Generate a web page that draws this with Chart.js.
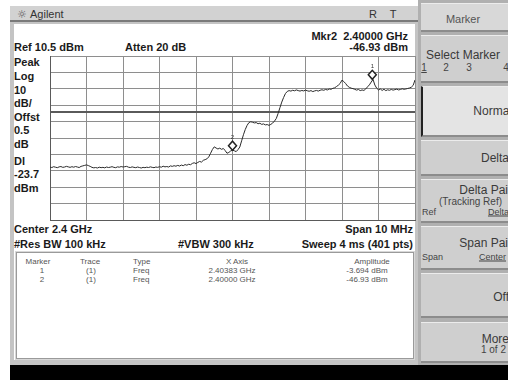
<!DOCTYPE html>
<html>
<head>
<meta charset="utf-8">
<script src="https://cdn.jsdelivr.net/npm/chart.js@4.4.1/dist/chart.umd.min.js"></script>
<style>
  html, body { margin: 0; padding: 0; }
  body { width: 508px; height: 380px; overflow: hidden; position: relative; background: #fff;
         font-family: "Liberation Sans", Arial, sans-serif; color: #222; }
  .box { position: absolute; box-sizing: border-box; }
  .t { position: absolute; white-space: nowrap; line-height: 1; }
  .l { transform: translate(0, -50%); }
  .c { transform: translate(-50%, -50%); }
  .r { transform: translate(-100%, -50%); }
  .b { font-weight: bold; font-size: 11px; color: #1a1a1a; }
  .tb { font-size: 8px; color: #555; }
  .btn { position: absolute; left: 421px; width: 90px; box-sizing: border-box; background: #cfcfcf;
         border-top: 1px solid #ececec; border-bottom: 2px solid #8c8c8c; }
  .k { font-size: 12px; color: #3a3a3a; }
  .ks { font-size: 9px; color: #444; }
  #chart { position: absolute; left: 0; top: 0; z-index: 5; }
</style>
</head>
<body>
<!-- instrument frame -->
<div class="box" style="left:10px;top:6px;width:410px;height:359px;background:#c4c4c4;"></div>
<div class="box" style="left:10px;top:6px;width:408px;height:16px;background:#d2d2d2;border-bottom:2px solid #7a7a7a;"></div>
<div class="box" style="left:14px;top:24px;width:401px;height:336px;background:#fff;"></div>
<div class="box" style="left:16px;top:252px;width:398px;height:107px;border:1px solid #9a9a9a;outline:1px solid #d8d8d8;"></div>
<div class="box" style="left:10px;top:365px;width:498px;height:15px;background:#000;"></div>

<!-- title bar -->
<span class="t l" style="left:17px;top:14px;font-size:11px;color:#555;font-family:'DejaVu Sans';">☼</span>
<span class="t l" style="left:30px;top:14px;font-size:11px;color:#333;">Agilent</span>
<span class="t c" style="left:373px;top:14px;font-size:11px;color:#333;">R</span>
<span class="t c" style="left:393px;top:14px;font-size:11px;color:#333;">T</span>

<!-- annotations -->
<span class="t l b" style="left:14px;top:47px;">Ref 10.5 dBm</span>
<span class="t l b" style="left:125px;top:47px;">Atten 20 dB</span>
<span class="t r b" style="left:408px;top:36px;">Mkr2&nbsp; 2.40000 GHz</span>
<span class="t r b" style="left:408px;top:47px;">-46.93 dBm</span>
<span class="t l b" style="left:14px;top:62px;">Peak</span>
<span class="t l b" style="left:14px;top:76px;">Log</span>
<span class="t l b" style="left:14px;top:90px;">10</span>
<span class="t l b" style="left:14px;top:103px;">dB/</span>
<span class="t l b" style="left:14px;top:117px;">Offst</span>
<span class="t l b" style="left:14px;top:130px;">0.5</span>
<span class="t l b" style="left:14px;top:144px;">dB</span>
<span class="t l b" style="left:14px;top:161px;">Dl</span>
<span class="t l b" style="left:14px;top:174px;">-23.7</span>
<span class="t l b" style="left:14px;top:188px;">dBm</span>
<span class="t l b" style="left:14px;top:229px;">Center 2.4 GHz</span>
<span class="t r b" style="left:413px;top:229px;">Span 10 MHz</span>
<span class="t l b" style="left:14px;top:244px;">#Res BW 100 kHz</span>
<span class="t l b" style="left:178px;top:244px;">#VBW 300 kHz</span>
<span class="t r b" style="left:413px;top:244px;">Sweep 4 ms (401 pts)</span>

<!-- marker table -->
<span class="t c tb" style="left:38px;top:262px;">Marker</span>
<span class="t c tb" style="left:90px;top:262px;">Trace</span>
<span class="t l tb" style="left:133px;top:262px;">Type</span>
<span class="t c tb" style="left:237px;top:262px;">X Axis</span>
<span class="t c tb" style="left:372px;top:262px;">Amplitude</span>
<span class="t c tb" style="left:42px;top:271px;">1</span>
<span class="t c tb" style="left:91px;top:271px;">(1)</span>
<span class="t l tb" style="left:133px;top:271px;">Freq</span>
<span class="t c tb" style="left:232px;top:271px;">2.40383 GHz</span>
<span class="t c tb" style="left:367px;top:271px;">-3.694 dBm</span>
<span class="t c tb" style="left:42px;top:280px;">2</span>
<span class="t c tb" style="left:91px;top:280px;">(1)</span>
<span class="t l tb" style="left:133px;top:280px;">Freq</span>
<span class="t c tb" style="left:232px;top:280px;">2.40000 GHz</span>
<span class="t c tb" style="left:367px;top:280px;">-46.93 dBm</span>

<!-- softkey panel -->
<div class="box" style="left:418px;top:0;width:90px;height:365px;background:#b0b0b0;"></div>
<div class="btn" style="top:3px;height:29px;background:#d8d8d8;"></div>
<div class="btn" style="top:35px;height:48px;"></div>
<div class="btn" style="top:86px;height:51px;background:#e4e4e4;border-left:2px solid #222;"></div>
<div class="btn" style="top:140px;height:36px;"></div>
<div class="btn" style="top:179px;height:44px;"></div>
<div class="btn" style="top:226px;height:44px;"></div>
<div class="btn" style="top:273px;height:45px;"></div>
<div class="btn" style="top:322px;height:41px;"></div>
<span class="t c k" style="left:463px;top:19px;font-size:11px;color:#555;">Marker</span>
<span class="t l k" style="left:426px;top:55px;">Select Marker</span>
<span class="t c ks" style="left:424px;top:68px;font-size:10px;text-decoration:underline;">1</span>
<span class="t c ks" style="left:446px;top:68px;font-size:10px;">2</span>
<span class="t c ks" style="left:469px;top:68px;font-size:10px;">3</span>
<span class="t c ks" style="left:506px;top:68px;font-size:10px;">4</span>
<span class="t r k" style="left:512px;top:111px;">Normal</span>
<span class="t r k" style="left:509px;top:158px;">Delta</span>
<span class="t r k" style="left:512px;top:190px;">Delta Pair</span>
<span class="t r ks" style="left:502px;top:202px;font-size:10px;">(Tracking Ref)</span>
<span class="t l ks" style="left:422px;top:212px;">Ref</span>
<span class="t r ks" style="left:509px;top:212px;text-decoration:underline;">Delta</span>
<span class="t r k" style="left:512px;top:243px;">Span Pair</span>
<span class="t l ks" style="left:422px;top:257px;">Span</span>
<span class="t r ks" style="left:506px;top:257px;text-decoration:underline;">Center</span>
<span class="t r k" style="left:509px;top:297px;">Off</span>
<span class="t r k" style="left:509px;top:339px;">More</span>
<span class="t r ks" style="left:506px;top:350px;font-size:10px;">1 of 2</span>

<canvas id="chart" width="508" height="380"></canvas>

<script>
// Sweep: 2.395 - 2.405 GHz, trace every 0.05 MHz (MHz)
const startMHz = 2395;
const stopMHz = 2405;
const refLevel = 10.5;      // dBm, top graticule line
const dbPerDiv = 10;
const displayLine = -23.7;  // dBm

// Trace 1 amplitude (dBm)
const traceDbm = [
  -57.2, -57.5, -57.0, -57.3, -57.6, -57.1, -56.9, -57.4, -57.2, -56.8,
  -57.1, -57.4, -57.0, -57.3, -56.9, -57.2, -57.5, -56.8, -56.5, -56.2,
  -55.9, -56.3, -56.8, -57.4, -57.7, -57.5, -57.8, -57.3, -57.6, -57.4,
  -57.7, -57.2, -57.5, -57.3, -57.0, -57.4, -57.6, -57.1, -57.3, -56.9,
  -57.2, -57.0, -56.8, -57.3, -57.5, -57.1, -57.4, -57.6, -57.2, -57.5,
  -57.8, -57.4, -57.6, -57.3, -57.5, -57.1, -57.4, -57.6, -57.2, -57.4,
  -57.0, -57.3, -56.7, -57.1, -56.9, -57.2, -56.5, -56.8, -56.4, -56.7,
  -56.2, -56.6, -56.0, -56.4, -55.7, -56.1, -55.5, -55.8, -55.0, -54.6,
  -55.1, -54.4, -53.8, -54.2, -53.1, -52.7, -52.2, -51.0, -48.8, -46.5,
  -44.9, -45.6, -46.2, -45.7, -46.4, -45.9, -47.2, -48.8, -48.3, -47.4,
  -46.93, -47.3, -47.8, -46.6, -45.0, -41.2, -37.5, -34.3, -31.8, -30.1,
  -29.6, -29.9, -30.3, -30.1, -30.8, -30.5, -31.2, -30.9, -31.5, -31.3,
  -31.8, -31.2, -30.4, -29.2, -27.6, -24.5, -21.0, -17.6, -14.8, -12.4,
  -11.1, -10.6, -10.9, -10.4, -10.7, -10.2, -10.6, -10.9, -10.5, -10.8,
  -10.3, -10.7, -11.0, -10.6, -11.2, -10.8, -10.5, -10.9, -10.4, -10.1,
  -10.4, -9.9, -10.2, -9.6, -9.8, -9.2, -8.9, -8.1, -7.3, -6.2,
  -4.2, -5.1, -6.3, -7.8, -8.6, -9.1, -9.4, -9.8, -10.3, -9.9,
  -10.6, -10.2, -10.5, -9.6, -8.3, -7.1, -5.4, -3.8, -7.2, -9.1,
  -10.2, -9.6, -10.5, -9.8, -10.6, -10.1, -10.4, -9.9, -10.3, -10.0,
  -9.7, -10.2, -9.9, -9.5, -9.8, -9.6, -9.3, -9.0, -8.5, -7.4,
  -4.1
];

// Markers
const markerNames = ['1', '2'];
const markerMHz = [2403.83, 2400.00];
const markerDbm = [-3.694, -46.93];

const stepMHz = (stopMHz - startMHz) / (traceDbm.length - 1);
const tracePts = traceDbm.map((v, i) => ({ x: startMHz + i * stepMHz, y: v }));
const markerPts = markerMHz.map((f, i) => ({ x: f, y: markerDbm[i] }));

// marker diamonds sit on top of the trace point, number above
const markerPlugin = {
  id: 'mkr',
  afterDatasetsDraw(chart) {
    const meta = chart.getDatasetMeta(2);
    const c = chart.ctx;
    c.save();
    meta.data.forEach((p, i) => {
      const x = p.x, y = p.y;
      c.beginPath();
      c.moveTo(x, y);
      c.lineTo(x + 4, y - 4.5);
      c.lineTo(x, y - 9);
      c.lineTo(x - 4, y - 4.5);
      c.closePath();
      c.fillStyle = '#fff';
      c.fill();
      c.lineWidth = 1.5;
      c.strokeStyle = '#222';
      c.stroke();
      c.fillStyle = '#333';
      c.font = '6px "Liberation Sans", Arial';
      c.textAlign = 'center';
      c.textBaseline = 'middle';
      c.fillText(markerNames[i], x, y - 13);
    });
    c.restore();
  }
};

new Chart(document.getElementById('chart'), {
  type: 'line',
  data: {
    datasets: [{
      label: 'Trace 1',
      data: tracePts,
      borderColor: '#2a2a2a',
      borderWidth: 1,
      pointRadius: 0,
      tension: 0
    }, {
      label: 'Display line',
      data: [{ x: startMHz, y: displayLine }, { x: stopMHz, y: displayLine }],
      borderColor: '#5a5a5a',
      borderWidth: 2,
      pointRadius: 0
    }, {
      label: 'Markers',
      data: markerPts,
      showLine: false,
      pointRadius: 0
    }]
  },
  options: {
    responsive: false,
    animation: false,
    layout: { padding: { left: 50, top: 56, right: 93, bottom: 160 } },
    plugins: { legend: { display: false }, tooltip: { enabled: false } },
    scales: {
      x: {
        type: 'linear',
        min: startMHz,
        max: stopMHz,
        ticks: { display: false, stepSize: 1 },
        grid: { color: '#8e8e8e', drawTicks: false, lineWidth: 1 },
        border: { color: '#5a5a5a', width: 1 }
      },
      y: {
        min: refLevel - 10 * dbPerDiv,
        max: refLevel,
        ticks: { display: false, stepSize: dbPerDiv },
        grid: { color: '#8e8e8e', drawTicks: false, lineWidth: 1 },
        border: { color: '#5a5a5a', width: 1 }
      }
    }
  },
  plugins: [markerPlugin]
});
</script>
</body>
</html>
